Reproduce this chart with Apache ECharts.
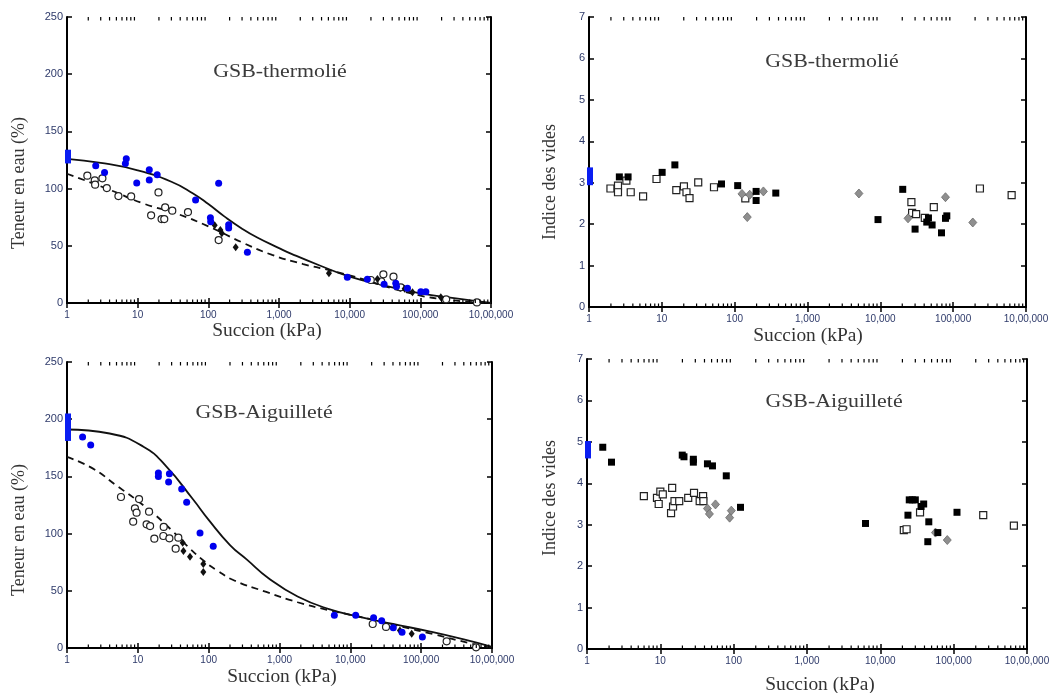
<!DOCTYPE html>
<html>
<head>
<meta charset="utf-8">
<script src="https://cdn.jsdelivr.net/npm/echarts@6/dist/echarts.min.js"></script>
<style>html,body{margin:0;padding:0;background:#fff}#c{width:1064px;height:693px}</style>
</head>
<body>
<div id="c"></div>
<script>
// ---------- tick labels ----------
const xTickLabels = ['1','10','100','1,000','10,000','100,000','10,00,000'];
const minorTickValues = [2,3,4,5,6,7,8,9,20,30,40,50,60,70,80,90,200,300,400,500,600,700,800,900,
  2000,3000,4000,5000,6000,7000,8000,9000,20000,30000,40000,50000,60000,70000,80000,90000,
  200000,300000,400000,500000,600000,700000,800000,900000];

// ---------- titles / names ----------
const titles = ['GSB-thermolié','GSB-thermolié','GSB-Aiguilleté','GSB-Aiguilleté'];
const xName = 'Succion (kPa)';
const yNameW = 'Teneur en eau (%)';
const yNameE = 'Indice des vides';

// ---------- GSB-thermolié : teneur en eau ----------
const tlSat = [122, 134];
const tlBlue = [[2.55,120],[3.4,114],[6.7,122],[6.9,126],[9.7,105],[14.6,116.5],[14.6,107.5],[18.9,112],[66,90],[107,74.5],[108,71],[140,104.6],[194,68.5],[194,65.5],[357,44.3],[9270,22.5],[17800,20.7],[30700,16.3],[44900,17.2],[46000,14.5],[65800,12.8],[101600,9.8],[119700,9.8]];
const tlOpen = [[1.94,111.3],[2.47,107.2],[2.5,103.4],[3.17,109],[3.66,100.5],[5.34,93.5],[8.09,93.2],[19.7,96.7],[15.5,76.6],[21.8,73.4],[23.8,73.4],[24.5,83.6],[30.9,80.7],[51.5,79.5],[140,55],[30000,25.1],[41700,23],[19900,20.1],[28000,18.8],[52800,13.7],[232000,3.2],[632000,0.5]];
const tlDiamond = [[123,67.9],[148,63.8],[155,60.9],[244,48.7],[5090,26],[24700,21],[60000,12.5],[77500,9.3],[195000,5]];
const tlSolid = [[1,126],[3,122.5],[10,116],[30,106],[60,96],[100,86.5],[170,75.5],[300,65],[500,57],[1000,48],[1500,43],[3700,33],[10000,23],[30000,15.5],[100000,8.5],[300000,4.2],[1000000,0]];
const tlDashed = [[1,113],[4,99],[12,87],[36,78],[100,67],[300,53],[800,42],[2200,34],[6300,27.4],[15000,21],[30000,15],[100000,6.5],[200000,3.5],[500000,1],[1000000,0]];

// ---------- GSB-thermolié : indice des vides ----------
const trSat = [2.94, 3.37];
const trFilled = [[2.61,3.14],[3.44,3.14],[10.1,3.25],[15.1,3.43],[66,2.97],[110,2.93],[197,2.79],[197,2.57],[367,2.75],[9290,2.11],[20300,2.84],[30000,1.88],[43400,2.05],[45800,2.15],[51400,1.98],[69100,1.79],[78400,2.14],[81800,2.2]];
const trOpen = [[1.97,2.86],[2.5,2.93],[2.5,2.77],[3.26,3.05],[3.74,2.77],[5.53,2.67],[8.45,3.09],[15.8,2.82],[20.1,2.91],[21.8,2.77],[24,2.63],[31.6,3.01],[52,2.89],[140,2.62],[26700,2.53],[27300,2.27],[31000,2.24],[40800,2.15],[54200,2.41],[233000,2.86],[635000,2.7]];
const trGray = [[126,2.73],[149,2.17],[161,2.71],[248,2.79],[5080,2.74],[24000,2.14],[78400,2.65],[186000,2.04]];

// ---------- GSB-Aiguilleté : teneur en eau ----------
const blSat = [181, 205];
const blBlue = [[1.66,184.4],[2.16,177.4],[19.5,153],[19.5,150],[27.9,152.4],[27.2,145.1],[41.6,139],[48.9,127.3],[75.5,100.5],[116,88.9],[5950,28.6],[11900,28.6],[21300,26.5],[27700,23.9],[40400,17.8],[53700,13.7],[104000,9.6]];
const blOpen = [[5.78,132],[10.4,130.2],[9.1,122.1],[9.6,118.3],[8.6,110.4],[14.4,119.2],[13.3,108.1],[14.9,106.6],[23.2,105.8],[17.1,95.6],[22.9,97.9],[27.9,95.9],[37.3,96.4],[34.2,86.8],[20700,21],[31900,18.4],[229000,5.8],[596000,0.6]];
const blDiamond = [[43,92],[44,84.8],[54.5,79.8],[84,73.4],[84,66.4],[50100,15.2],[73500,12.5]];
const blSolid = [[1,191],[4,187.5],[12,176],[25,159],[60,130],[100,112],[200,90],[350,77],[700,61],[1800,45],[5000,34],[14000,27],[40000,21],[130000,14.5],[400000,7.5],[1000000,1]];
const blDashed = [[1,167],[2.3,157],[5,142],[13,123],[30,103],[50,89],[90,75],[130,68],[230,59],[650,49],[1800,40],[5000,33],[10000,29],[20000,25],[50000,19],[150000,12],[500000,4],[1000000,0]];

// ---------- GSB-Aiguilleté : indice des vides ----------
const brSat = [4.60, 5.02];
const brFilled = [[1.64,4.87],[2.16,4.51],[19.9,4.68],[21,4.64],[28.2,4.58],[28.2,4.51],[43.9,4.47],[51.4,4.42],[79.3,4.18],[124,3.42],[6280,3.03],[23800,3.23],[24800,3.6],[27300,3.6],[30000,3.6],[35900,3.44],[39000,3.5],[45800,3.07],[44400,2.59],[60800,2.81],[111000,3.3]];
const brOpen = [[5.96,3.69],[9.0,3.65],[9.5,3.5],[10,3.8],[10.8,3.73],[14.5,3.89],[14,3.28],[14.9,3.44],[15.6,3.57],[18.1,3.57],[24,3.65],[28.8,3.77],[34.4,3.57],[38.3,3.69],[38.7,3.57],[20900,2.87],[22800,2.89],[34800,3.3],[253000,3.23],[662000,2.98]];
const brGray = [[43.9,3.39],[46.7,3.26],[56.5,3.49],[88.1,3.17],[92.9,3.34],[56500,2.81],[81800,2.63]];

// ---------- layout ----------
const grids = [
  {left:67, top:17, width:424, height:286},
  {left:589, top:17, width:437, height:290},
  {left:67, top:362, width:425, height:286},
  {left:587, top:359, width:440, height:290}
];
const yMax = [250, 7, 250, 7];
const yInt = [50, 1, 50, 1];
const labelColor = '#2e3a6a';
const BLUE = '#0000ee';

const xAxes = [], yAxes = [], series = [];
grids.forEach((g, i) => {
  const base = {type:'log', logBase:10, min:1, max:1000000, splitNumber:6, gridIndex:i,
    splitLine:{show:false}, axisLine:{show:true, lineStyle:{color:'#000', width:2}},
    axisTick:{show:true, inside:true, length:5, lineStyle:{color:'#000', width:1.5}}};
  xAxes.push(Object.assign({}, base, {position:'bottom',
    axisLabel:{show:true, margin:7, fontSize:10, fontFamily:'Liberation Sans', color:labelColor,
      formatter: v => xTickLabels[Math.round(Math.log10(v))]}}));
  const ybase = {type:'value', min:0, max:yMax[i], interval:yInt[i], gridIndex:i,
    splitLine:{show:false}, axisLine:{show:true, lineStyle:{color:'#000', width:2}},
    axisTick:{show:true, inside:true, length:5, lineStyle:{color:'#000', width:1.5}}};
  yAxes.push(Object.assign({}, ybase, {position:'left',
    axisLabel:{show:true, margin:4, fontSize:11, fontFamily:'Liberation Sans', color:labelColor}}));
});
grids.forEach((g, i) => {
  xAxes.push({type:'log', logBase:10, min:1, max:1000000, splitNumber:6, gridIndex:i, position:'top',
    splitLine:{show:false}, axisLabel:{show:false},
    axisLine:{show:true, lineStyle:{color:'#000', width:2}},
    axisTick:{show:true, inside:true, length:5, lineStyle:{color:'#000', width:1.5}}});
  yAxes.push({type:'value', min:0, max:yMax[i], interval:yInt[i], gridIndex:i, position:'right',
    splitLine:{show:false}, axisLabel:{show:false},
    axisLine:{show:true, lineStyle:{color:'#000', width:2}},
    axisTick:{show:true, inside:true, length:5, lineStyle:{color:'#000', width:1.5}}});
});

function minorSeries(i) {
  return {type:'custom', xAxisIndex:i, yAxisIndex:i, silent:true, z:5,
    data: minorTickValues.map(v => [v]),
    encode:{x:0},
    renderItem: (params, api) => {
      const v = api.value(0);
      const b = api.coord([v, 0]);
      const t = api.coord([v, yMax[i]]);
      const st = {stroke:'#000', lineWidth:1.2};
      return {type:'group', children:[
        {type:'line', shape:{x1:b[0], y1:b[1], x2:b[0], y2:b[1]-3.5}, style:st},
        {type:'line', shape:{x1:t[0], y1:t[1], x2:t[0], y2:t[1]+3.5}, style:st}
      ]};
    }};
}
function satSeries(i, range) {
  return {type:'custom', xAxisIndex:i, yAxisIndex:i, silent:true, z:6, clip:false,
    data:[[1, range[0], range[1]]], encode:{x:0, y:[1,2]},
    renderItem: (params, api) => {
      const lo = api.coord([api.value(0), api.value(1)]);
      const hi = api.coord([api.value(0), api.value(2)]);
      return {type:'rect', shape:{x:lo[0]-2, y:hi[1], width:6, height:lo[1]-hi[1]}, style:{fill:'#0a1ef2'}};
    }};
}
function scat(i, data, opt) {
  return Object.assign({type:'scatter', xAxisIndex:i, yAxisIndex:i, data:data, z:4, silent:true}, opt);
}
function line(i, data, dashed) {
  return {type:'line', xAxisIndex:i, yAxisIndex:i, data:data, smooth:0.5,
    showSymbol:false, symbol:'none', z:3, silent:true,
    lineStyle:{color:'#111', width:1.8, type: dashed ? [7,5] : 'solid'}};
}
const blueDot = {symbol:'circle', symbolSize:7, itemStyle:{color:BLUE, opacity:1}};
const openDot = {symbol:'circle', symbolSize:7, itemStyle:{color:'#fff', borderColor:'#222', borderWidth:1.2, opacity:1}};
const blackDia = {symbol:'diamond', symbolSize:[6,8], itemStyle:{color:'#111', opacity:1}};
const fillSq = {symbol:'rect', symbolSize:7, itemStyle:{color:'#000', opacity:1}};
const openSq = {symbol:'rect', symbolSize:7, itemStyle:{color:'#fff', borderColor:'#222', borderWidth:1.2, opacity:1}};
const grayDia = {symbol:'diamond', symbolSize:[8,9], itemStyle:{color:'#8f8f8f', borderColor:'#6a6a6a', borderWidth:0.8, opacity:1}};

series.push(line(0, tlSolid, false), line(0, tlDashed, true),
  scat(0, tlOpen, openDot), scat(0, tlDiamond, blackDia), scat(0, tlBlue, blueDot),
  satSeries(0, tlSat), minorSeries(0));
series.push(scat(1, trOpen, openSq), scat(1, trGray, grayDia), scat(1, trFilled, fillSq),
  satSeries(1, trSat), minorSeries(1));
series.push(line(2, blSolid, false), line(2, blDashed, true),
  scat(2, blOpen, openDot), scat(2, blDiamond, blackDia), scat(2, blBlue, blueDot),
  satSeries(2, blSat), minorSeries(2));
series.push(scat(3, brOpen, openSq), scat(3, brGray, grayDia), scat(3, brFilled, fillSq),
  satSeries(3, brSat), minorSeries(3));

// text placement
const titlePos = [[280,72],[832,62],[264,413],[834,402]];
const xNamePos = [[267,331],[808,336],[282,677],[820,685]];
const yNamePos = [[19,183],[550,182],[19,530],[550,498]];
const graphic = [];
titles.forEach((t, i) => graphic.push({type:'text', x:titlePos[i][0], y:titlePos[i][1], scaleX:1.15, z:10,
  style:{text:t, font:'19px "Liberation Serif"', fill:'#3a3a3a', textAlign:'center', textVerticalAlign:'middle'}}));
xNamePos.forEach(p => graphic.push({type:'text', x:p[0], y:p[1], scaleX:1.08, z:10,
  style:{text:xName, font:'18px "Liberation Serif"', fill:'#333', textAlign:'center', textVerticalAlign:'middle'}}));
yNamePos.forEach((p, i) => graphic.push({type:'text', x:p[0], y:p[1], rotation:Math.PI/2, z:10,
  style:{text: (i % 2 === 0) ? yNameW : yNameE, font:'18px "Liberation Serif"', fill:'#333', textAlign:'center', textVerticalAlign:'middle'}}));

const chart = echarts.init(document.getElementById('c'), null, {renderer:'canvas'});
chart.setOption({
  animation:false,
  backgroundColor:'#fff',
  grid: grids,
  xAxis: xAxes,
  yAxis: yAxes,
  series: series,
  graphic: graphic
});
</script>
</body>
</html>
